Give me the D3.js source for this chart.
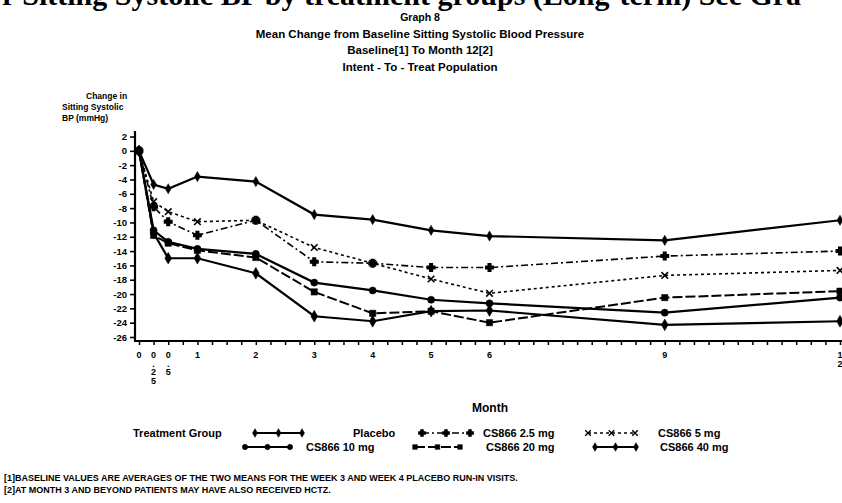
<!DOCTYPE html>
<html>
<head>
<meta charset="utf-8">
<script src="https://cdn.jsdelivr.net/npm/d3@7"></script>
<style>
  body { margin: 0; background: #fff; }
  svg { display: block; }
  text { font-family: "Liberation Sans", Arial, sans-serif; font-weight: bold; fill: #000; }
</style>
</head>
<body>
<div id="chart"></div>
<script>
// data
const months = [0, 0.25, 0.5, 1, 2, 3, 4, 5, 6, 9, 12];
const groups = ["Placebo", "CS866 2.5 mg", "CS866 5 mg", "CS866 10 mg", "CS866 20 mg", "CS866 40 mg"];
const placebo = [0, -4.7, -5.3, -3.6, -4.3, -8.9, -9.6, -11.1, -11.9, -12.5, -9.7];
const cs25 = [0, -7.8, -9.9, -11.8, -9.7, -15.5, -15.7, -16.3, -16.3, -14.7, -14.0];
const cs5 = [0, -7.1, -8.5, -9.9, -9.7, -13.5, -15.7, -17.9, -19.9, -17.4, -16.7];
const cs10 = [0, -11.1, -12.7, -13.7, -14.4, -18.4, -19.5, -20.8, -21.3, -22.6, -20.5];
const cs20 = [0, -11.8, -12.9, -13.9, -14.9, -19.7, -22.7, -22.4, -24.0, -20.5, -19.6];
const cs40 = [0, -11.5, -15.0, -15.0, -17.1, -23.1, -23.8, -22.4, -22.3, -24.3, -23.8];
const xTickLabels = ["0", "0.25", "0.5", "1", "2", "3", "4", "5", "6", "9", "12"];
const yTicks = d3.range(-26, 3, 2);

const titles = ["Graph 8", "Mean Change from Baseline Sitting Systolic Blood Pressure",
  "Baseline[1] To Month 12[2]", "Intent - To - Treat Population"];
const footnotes = ["[1]BASELINE VALUES ARE AVERAGES OF THE TWO MEANS FOR THE WEEK 3 AND WEEK 4 PLACEBO RUN-IN VISITS.",
  "[2]AT MONTH 3 AND BEYOND PATIENTS MAY HAVE ALSO RECEIVED HCTZ."];

const width = 842, height = 503;
const series = [placebo, cs25, cs5, cs10, cs20, cs40];

// line style per group
const dashes = [null, "7,3,2,3", "3,3", null, "10,3", null];
const widths = [2.2, 1.6, 1.6, 2.2, 2, 2.2];
const symbols = [d3.symbolDiamond, d3.symbolCross, d3.symbolX, d3.symbolCircle, d3.symbolSquare, d3.symbolDiamond];

const svg = d3.select("#chart").append("svg")
  .attr("width", width).attr("height", height);

// page text above the graph, cut by the scan
svg.append("text")
  .attr("x", 2).attr("y", 5)
  .style("font-family", "'Liberation Serif', 'Times New Roman', serif")
  .style("font-size", "30px")
  .text("r Sitting Systolic BP by treatment groups (Long-term) See Gra");

svg.selectAll(".title").data(titles).join("text")
  .attr("class", "title")
  .attr("x", 420).attr("y", (d, i) => 21 + i * 16.5)
  .attr("text-anchor", "middle")
  .style("font-size", (d, i) => i == 0 ? "10.5px" : "11.5px")
  .text(d => d);

const x = d3.scaleLinear().domain([0, 12]).range([139, 840]);
const y = d3.scaleLinear().domain([-26, 2]).range([337, 136.5]);

// y axis label
const yl = svg.append("text").style("font-size", "8.5px");
yl.append("tspan").attr("x", 86).attr("y", 99).text("Change in");
yl.append("tspan").attr("x", 62).attr("y", 110).text("Sitting Systolic");
yl.append("tspan").attr("x", 62).attr("y", 121).text("BP (mmHg)");

// axes
const yAxis = svg.append("g")
  .attr("transform", "translate(135,0)")
  .call(d3.axisLeft(y).tickValues(yTicks).tickSize(5).tickPadding(3).tickFormat(d => d));
yAxis.select(".domain").remove();
yAxis.selectAll("text").style("font-size", "9.5px").style("font-family", "'Liberation Sans', Arial, sans-serif");
yAxis.selectAll("line").attr("stroke-width", 1.6);

svg.append("line")
  .attr("x1", 135).attr("x2", 135).attr("y1", 131).attr("y2", 341)
  .attr("stroke", "#000").attr("stroke-width", 2.2);
svg.append("line")
  .attr("x1", 134).attr("x2", 842).attr("y1", 341).attr("y2", 341)
  .attr("stroke", "#000").attr("stroke-width", 2.2);

const xAxis = svg.append("g")
  .attr("transform", "translate(0,341)")
  .call(d3.axisBottom(x).tickValues(d3.range(0, 12.01, 0.25)).tickSize(4).tickFormat(""));
xAxis.select(".domain").remove();
xAxis.selectAll("line").attr("stroke-width", 1.5);

// x tick labels are stacked one character per row
const xl = svg.selectAll(".xlab").data(months).join("text")
  .attr("class", "xlab")
  .attr("text-anchor", "middle")
  .style("font-size", "9px");
xl.each(function(m, i) {
  const chars = xTickLabels[i].split("");
  d3.select(this).selectAll("tspan").data(chars).join("tspan")
    .attr("x", x(m))
    .attr("y", (c, j) => 358 + j * 8.5)
    .text(c => c);
});

svg.append("text")
  .attr("x", 490).attr("y", 412)
  .attr("text-anchor", "middle")
  .style("font-size", "12px")
  .text("Month");

// lines and markers
const line = d3.line().x((d, i) => x(months[i])).y(d => y(d));

series.forEach((vals, k) => {
  svg.append("path")
    .datum(vals)
    .attr("d", line)
    .attr("fill", "none")
    .attr("stroke", "#000")
    .attr("stroke-width", widths[k])
    .attr("stroke-dasharray", dashes[k]);
  svg.selectAll(".m" + k).data(vals).join("path")
    .attr("class", "m" + k)
    .attr("transform", (d, i) => `translate(${x(months[i])},${y(d)})`)
    .attr("d", d3.symbol().type(symbols[k]).size(k >= 3 ? 40 : 30))
    .attr("fill", "#000")
    .attr("stroke", "#000")
    .attr("stroke-width", k == 1 || k == 2 ? 1.6 : 0.5);
});

// legend
svg.append("text").attr("x", 133).attr("y", 437).style("font-size", "11px").text("Treatment Group");

const legendPos = [
  {x1: 255, x2: 302, tx: 353, y: 433},
  {x1: 422, x2: 470, tx: 483, y: 433},
  {x1: 588, x2: 635, tx: 658, y: 433},
  {x1: 245, x2: 290, tx: 306, y: 447},
  {x1: 415, x2: 460, tx: 486, y: 447},
  {x1: 595, x2: 636, tx: 660, y: 447}
];

groups.forEach((g, k) => {
  const p = legendPos[k];
  svg.append("line")
    .attr("x1", p.x1).attr("x2", p.x2).attr("y1", p.y).attr("y2", p.y)
    .attr("stroke", "#000").attr("stroke-width", widths[k])
    .attr("stroke-dasharray", dashes[k]);
  [p.x1, (p.x1 + p.x2) / 2, p.x2].forEach(mx => {
    svg.append("path")
      .attr("transform", `translate(${mx},${p.y})`)
      .attr("d", d3.symbol().type(symbols[k]).size(22))
      .attr("fill", "#000").attr("stroke", "#000")
      .attr("stroke-width", k == 1 || k == 2 ? 1.4 : 0.5);
  });
  svg.append("text")
    .attr("x", p.tx).attr("y", p.y + 4)
    .style("font-size", "11px")
    .text(g);
});

svg.selectAll(".foot").data(footnotes).join("text")
  .attr("class", "foot")
  .attr("x", 4).attr("y", (d, i) => 481 + i * 12)
  .style("font-size", "9px")
  .text(d => d);
</script>
</body>
</html>
